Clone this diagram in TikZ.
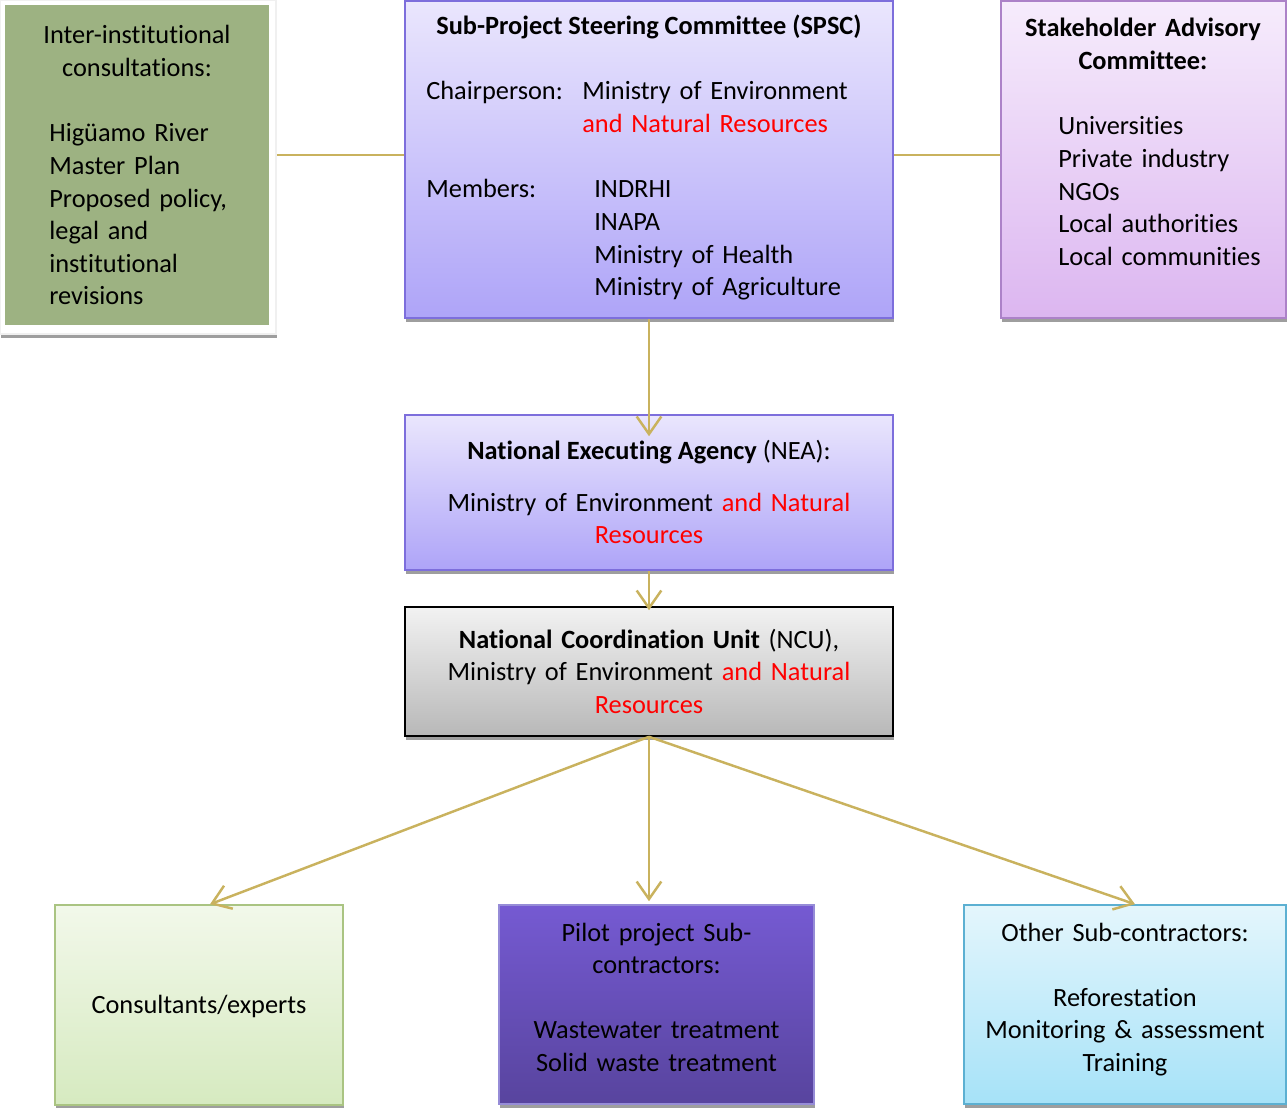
\documentclass[tikz,border=0pt]{standalone}
\usepackage{fontspec}
\setmainfont{Carlito}[Ligatures={NoCommon,NoRare},Contextuals=NoAlternate]
\usetikzlibrary{arrows.meta,shadows,calc}
\definecolor{gold}{RGB}{201,178,94}
\definecolor{natred}{RGB}{255,0,0}
\tikzset{box/.style={draw, line width=0.9pt, drop shadow={shadow xshift=0.5pt,shadow yshift=-2.3pt,fill=black!38,opacity=1}},
  txt/.style={inner sep=0pt, font=\fontsize{15}{18.5}\selectfont},
  link/.style={gold, line width=1.4pt},
  arr/.style={link, -{Straight Barb[length=10pt,width=14pt]}}}

\begin{document}
\begin{tikzpicture}[x=0.02cm, y=-0.02cm]
  \useasboundingbox (0,0) rectangle (1288,1108);
  % boxes
  \node[box, draw=black!6, fill=white, minimum width=5.52cm, minimum height=6.68cm] (consbg) at (138,167) {};
  \node[draw=none, fill={rgb,255:red,157;green,178;blue,130}, minimum width=5.28cm, minimum height=6.4cm] (cons) at (137,165) {};
  \node[box, draw={rgb,255:red,125;green,110;blue,220}, top color={rgb,255:red,234;green,230;blue,253}, bottom color={rgb,255:red,174;green,164;blue,248},
        minimum width=9.76cm, minimum height=6.34cm] (spsc) at (649,159.5) {};
  \node[box, draw={rgb,255:red,172;green,130;blue,200}, top color={rgb,255:red,246;green,236;blue,252}, bottom color={rgb,255:red,220;green,182;blue,240},
        minimum width=5.7cm, minimum height=6.34cm] (sac) at (1143.5,159.5) {};
  \node[box, draw={rgb,255:red,125;green,110;blue,220}, top color={rgb,255:red,234;green,230;blue,253}, bottom color={rgb,255:red,174;green,164;blue,248},
        minimum width=9.76cm, minimum height=3.1cm] (nea) at (649,492.5) {};
  \node[box, draw=black, top color={rgb,255:red,242;green,242;blue,242}, bottom color={rgb,255:red,184;green,184;blue,184},
        minimum width=9.76cm, minimum height=2.58cm] (ncu) at (649,671.5) {};
  \node[box, draw={rgb,255:red,170;green,196;blue,130}, top color={rgb,255:red,242;green,248;blue,234}, bottom color={rgb,255:red,214;green,234;blue,192},
        minimum width=5.76cm, minimum height=4cm] (expt) at (199,1005) {};
  \node[box, draw={rgb,255:red,150;green,140;blue,215}, top color={rgb,255:red,117;green,90;blue,210}, bottom color={rgb,255:red,88;green,68;blue,158},
        minimum width=6.3cm, minimum height=3.98cm] (pilot) at (656.5,1004.5) {};
  \node[box, draw={rgb,255:red,92;green,176;blue,210}, top color={rgb,255:red,228;green,246;blue,252}, bottom color={rgb,255:red,166;green,226;blue,248},
        minimum width=6.44cm, minimum height=3.98cm] (other) at (1125,1004.5) {};

  % texts
  \node[txt, anchor=base, text width=5cm, align=center] (consT) at (137,44) {Inter-institutional\\consultations:};
  \node[txt, anchor=base west, text width=4.4cm, align=left] (consL) at (49,142) {Higüamo River\\Master Plan\\Proposed policy,\\legal and\\institutional\\revisions};
  \node[txt, anchor=base] (spscT) at (649,35) {\textbf{Sub-Project Steering Committee (SPSC)}};
  \node[txt, anchor=base west] (chair) at (426,100) {Chairperson:};
  \node[txt, anchor=base west, text width=6cm, align=left] (chairL) at (582,100) {Ministry of Environment\\\textcolor{natred}{and Natural Resources}};
  \node[txt, anchor=base west] (memb) at (426,198) {Members:};
  \node[txt, anchor=base west, text width=6cm, align=left] (membL) at (594,198) {INDRHI\\INAPA\\Ministry of Health\\Ministry of Agriculture};
  \node[txt, anchor=base, text width=5.6cm, align=center] (sacT) at (1143,37) {\textbf{Stakeholder Advisory}\\\textbf{Committee:}};
  \node[txt, anchor=base west, text width=4.6cm, align=left] (sacL) at (1058,135) {Universities\\Private industry\\NGOs\\Local authorities\\Local communities};
  \node[txt, anchor=base] (neaT) at (649,459) {\textbf{National Executing Agency} (NEA):};
  \node[txt, anchor=base, text width=9cm, align=center] (neaL) at (649,511) {Ministry of Environment \textcolor{natred}{and Natural}\\\textcolor{natred}{Resources}};
  \node[txt, anchor=base, text width=9cm, align=center] (ncuT) at (649,648) {\textbf{National Coordination Unit} (NCU),\\Ministry of Environment \textcolor{natred}{and Natural}\\\textcolor{natred}{Resources}};
  \node[txt, anchor=base] (exptT) at (199,1013) {Consultants/experts};
  \node[txt, anchor=base, text width=6cm, align=center] (pilotT) at (656.5,941) {Pilot project Sub-\\contractors:\\[18.5pt]Wastewater treatment\\Solid waste treatment};
  \node[txt, anchor=base, text width=6.2cm, align=center] (otherT) at (1125,941) {Other Sub-contractors:\\[18.5pt]Reforestation\\Monitoring \& assessment\\Training};

  % connectors
  \draw[link] (consbg.east |- 0,155) -- (spsc.west |- 0,155);
  \draw[link] (spsc.east |- 0,155) -- (sac.west |- 0,155);
  \draw[arr, shorten >=-0.44cm] (spsc.south) -- (nea.north);
  \draw[arr, shorten >=-0.08cm] (nea.south) -- (ncu.north);
  \draw[arr] (ncu.south) -- ($(expt.north)+(11,0)$);
  \draw[arr, shorten >=0.06cm] (ncu.south) -- (ncu.south |- pilot.north);
  \draw[arr] (ncu.south) -- ($(other.north)+(10,0)$);
\end{tikzpicture}
\end{document}
